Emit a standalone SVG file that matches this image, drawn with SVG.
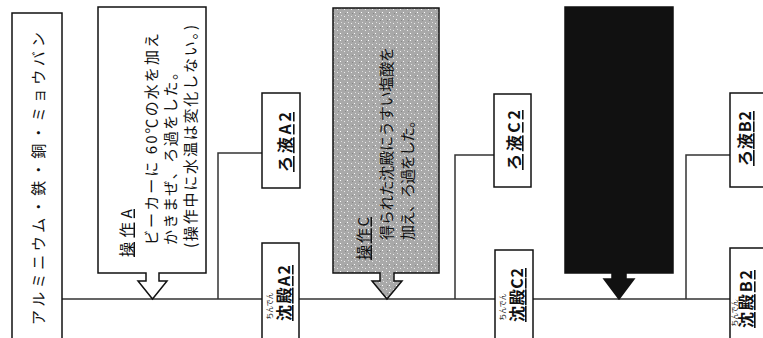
<svg xmlns="http://www.w3.org/2000/svg" width="763" height="338" viewBox="0 0 763 338">
<style>
.box{fill:#fff;stroke:#111;stroke-width:1.5}
.ln{fill:none;stroke:#333;stroke-width:1.5}
.t{font-family:"Noto Sans CJK JP","Noto Sans",sans-serif;font-size:15px;fill:#111;dominant-baseline:central}
.lb{font-family:"Noto Sans CJK JP","Noto Sans",sans-serif;font-size:16px;font-weight:bold;fill:#111;dominant-baseline:central;text-decoration:underline}
.fu{font-family:"Noto Sans CJK JP","Noto Sans",sans-serif;font-size:7px;fill:#111;dominant-baseline:central}
.u{text-decoration:underline}
</style>
<defs>
<pattern id="speck" width="7" height="7" patternUnits="userSpaceOnUse">
<rect width="7" height="7" fill="#a9a9a9"/>
<rect x="1" y="2" width="1" height="1" fill="#eee"/>
<rect x="4" y="5" width="1" height="1" fill="#fff"/>
<rect x="5" y="1" width="1" height="1" fill="#ddd"/>
<rect x="2" y="6" width="1" height="1" fill="#888"/>
</pattern>
</defs>
<g id="connectors">
<path class="ln" d="M62,299 H262 M299,299 H495 M533,299 H730"/>
<path class="ln" d="M218,299 V153 H262"/>
<path class="ln" d="M455,299 V155 H494"/>
<path class="ln" d="M686,299 V155 H730"/>
</g>
<g id="start">
<rect class="box" x="12" y="13" width="50" height="340"/>
<text class="t" transform="translate(37,325) rotate(-90)" textLength="293" lengthAdjust="spacing">アルミニウム・鉄・銅・ミョウバン</text>
</g>
<g id="opA">
<path class="box" d="M98,7 H206 V273 H159 V281 H167 L152.5,299 L138,281 H146 V273 H98 Z"/>
<text class="t u" transform="translate(125,257) rotate(-90)" textLength="48" lengthAdjust="spacing">操作A</text>
<text class="t" transform="translate(150,245) rotate(-90)" textLength="212" lengthAdjust="spacing">ビーカーに 60℃の水を加え</text>
<text class="t" transform="translate(169,245) rotate(-90)" textLength="180" lengthAdjust="spacing">かきまぜ、ろ過をした。</text>
<text class="t" transform="translate(189,248) rotate(-90)" textLength="223" lengthAdjust="spacing">(操作中に水温は変化しない。)</text>
</g>
<g id="filtA2">
<rect class="box" x="262" y="93" width="38" height="95"/>
<text class="lb" transform="translate(284,172) rotate(-90)" textLength="60" lengthAdjust="spacing">ろ液A2</text>
</g>
<g id="precA2">
<rect class="box" x="262" y="243" width="37" height="110"/>
<text class="lb" transform="translate(283,321) rotate(-90)" textLength="56" lengthAdjust="spacing">沈殿A2</text>
<text class="fu" transform="translate(269,306) rotate(-90)" text-anchor="middle">ちんでん</text>
</g>
<g id="opC">
<path d="M333,8 H439 V273 H394 V281 H402 L387,299 L372,281 H380 V273 H333 Z" fill="url(#speck)" stroke="#111" stroke-width="1.5"/>
<text class="t u" transform="translate(362,260) rotate(-90)" textLength="43" lengthAdjust="spacing">操作C</text>
<text class="t" transform="translate(385,240) rotate(-90)" textLength="193" lengthAdjust="spacing">得られた沈殿にうすい塩酸を</text>
<text class="t" transform="translate(406,240) rotate(-90)" textLength="127" lengthAdjust="spacing">加え、ろ過をした。</text>
</g>
<g id="filtC2">
<rect class="box" x="494" y="94" width="37" height="93"/>
<text class="lb" transform="translate(513,170) rotate(-90)" textLength="60" lengthAdjust="spacing">ろ液C2</text>
</g>
<g id="precC2">
<rect class="box" x="495" y="250" width="38" height="110"/>
<text class="lb" transform="translate(516,322) rotate(-90)" textLength="54" lengthAdjust="spacing">沈殿C2</text>
<text class="fu" transform="translate(502,307) rotate(-90)" text-anchor="middle">ちんでん</text>
</g>
<g id="opB">
<path d="M565,7 H673 V273 H626 V279 H634 L619,299 L604,279 H612 V273 H565 Z" fill="#111" stroke="#111" stroke-width="1.5"/>
</g>
<g id="filtB2">
<rect class="box" x="730" y="93" width="45" height="94"/>
<text class="lb" transform="translate(744,166) rotate(-90)" textLength="55" lengthAdjust="spacing">ろ液B2</text>
</g>
<g id="precB2">
<rect class="box" x="730" y="248" width="45" height="110"/>
<text class="lb" transform="translate(745,328) rotate(-90)" textLength="58" lengthAdjust="spacing">沈殿B2</text>
<text class="fu" transform="translate(734,313) rotate(-90)" text-anchor="middle">ちんでん</text>
</g>
</svg>
